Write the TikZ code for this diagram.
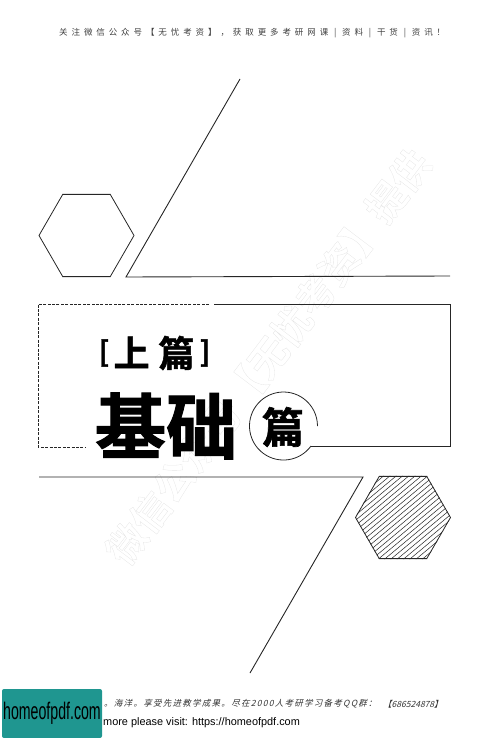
\documentclass[tikz,border=0pt]{standalone}
\usepackage{fontspec}
\usetikzlibrary{shapes.geometric}
\setmainfont{Liberation Sans}
\newfontfamily\cjkheavy[FakeBold=1.5]{Noto Sans CJK SC Bold}
\newfontfamily\cjkhead[LetterSpace=46]{Noto Sans CJK SC}
\newfontfamily\cjkfoot[FakeSlant=0.25,LetterSpace=15]{Noto Sans CJK SC}
\newfontfamily\cjkcode[FakeSlant=0.25]{Noto Sans CJK SC}
\newfontfamily\cjkmark{Noto Sans CJK SC Bold}
\definecolor{logoteal}{HTML}{1F9690}
\begin{document}
\begin{tikzpicture}[x=1pt,y=-1pt,
    rule/.style ={draw, black!85, line width=0.9pt, line join=miter},
    hexagon/.style ={regular polygon, regular polygon sides=6, minimum size=95pt, inner sep=0pt, draw, black!85, line width=0.8pt},
    chapter/.style ={inner sep=0pt, text=black}]
   \useasboundingbox (0,0) rectangle (500,738);

   \node[inner sep=0pt, rotate=52.8] (mark) at (268,357)
      {\special{pdf:code 1 Tr 0.3 w 0.9 G}\fontsize{39}{39}\cjkmark 微信公众号【无忧考资】提供\special{pdf:code 0 Tr}};

   \node[inner sep=0pt, anchor=west, text=black!75] (head) at (59,33)
      {\fontsize{8.5}{10}\cjkhead 关注微信公众号【无忧考资】，获取更多考研网课 | 资料 | 干货 | 资讯！};

   \coordinate (P1) at (240,79);
   \coordinate (P2) at (126,277);
   \coordinate (P3) at (450,276);
   \coordinate (Q1) at (39,477);
   \coordinate (Q2) at (363,477);
   \coordinate (Q3) at (250,673);
   \coordinate (D1) at (209,304);
   \coordinate (D2) at (38,304);
   \coordinate (D3) at (38,447);
   \coordinate (D4) at (85,447);
   \coordinate (S1) at (214,304);
   \coordinate (S2) at (450,304);
   \coordinate (S3) at (450,446);
   \coordinate (S4) at (311,446);

   \node[hexagon] (hexleft) at (86.5,235.5) {};
   \node[hexagon] (hexright) at (403,517.5) {};
   \begin{scope}
      \clip (hexright.corner 1) -- (hexright.corner 2) -- (hexright.corner 3) -- (hexright.corner 4) -- (hexright.corner 5) -- (hexright.corner 6) -- cycle;
      \foreach \i in {-14,...,14}
         \draw[black!85, line width=0.5pt] (403+\i*6.3-60,517.5+50) to (403+\i*6.3+60,517.5-50);
   \end{scope}

   \draw[rule] (P1) to (P2) to (P3);
   \draw[rule] (Q1) to (Q2) to (Q3);
   \draw[rule] (S1) to (S2) to (S3) to (S4);
   \draw[black!85, line width=0.7pt, dash pattern=on 3pt off 1.4pt] (D1) to (D2) to (D3) to (D4);
   \draw[black!85, line width=0.8pt] (S4) arc[start angle=-36, delta angle=-324, radius=34pt];

   \node[chapter] (upper) at (154,353) {\fontsize{36}{36}\cjkheavy 上\hspace{0.25em}篇};
   \node[chapter] (brackl) at (104,353) {\fontsize{28}{28}\cjkheavy [};
   \node[chapter] (brackr) at (205,353) {\fontsize{28}{28}\cjkheavy ]};
   \node[chapter] (basis) at (166,426) {\fontsize{71}{71}\cjkheavy 基础};
   \node[chapter] (seal) at (283,427) {\fontsize{42}{42}\cjkheavy 篇};

   \node[inner sep=0pt, anchor=west, text=black!80] (foot) at (104,704)
      {\fontsize{8.5}{10}\cjkfoot 。海洋。享受先进教学成果。尽在2000人考研学习备考QQ群：};
   \node[inner sep=0pt, anchor=west, text=black!80] (footcode) at (383,704)
      {\fontsize{8.5}{10}\cjkcode 【686524878】};
   \node[fill=logoteal, rounded corners=2pt, minimum width=100pt, minimum height=49pt, inner sep=0pt] (logo) at (52,713.5) {};
   \node[inner sep=0pt, text=black, xscale=0.59] (logotext) at (logo) {\fontsize{24}{24}\selectfont homeofpdf.com};
   \node[inner sep=0pt, anchor=west, text=black] (visit) at (103,723) {\fontsize{10.9}{13}\selectfont more please visit: https://homeofpdf.com};
\end{tikzpicture}
\end{document}
